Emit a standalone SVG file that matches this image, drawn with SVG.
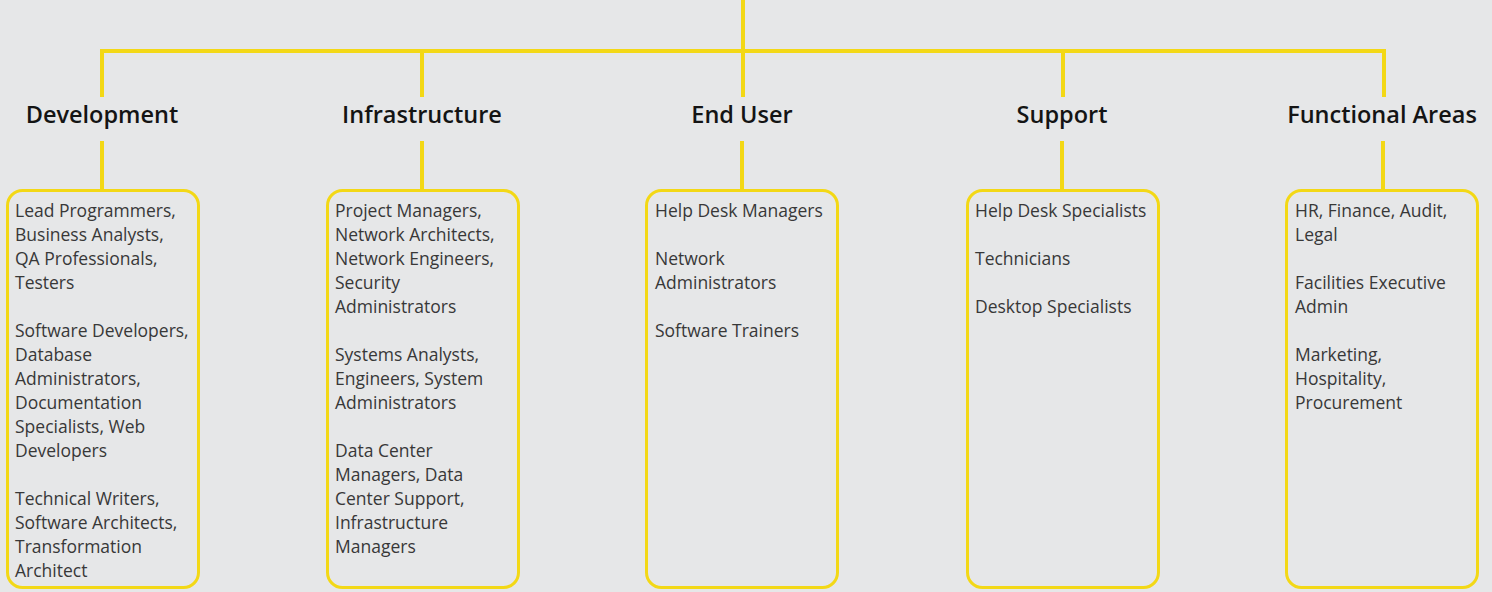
<svg xmlns="http://www.w3.org/2000/svg" width="1492" height="592" viewBox="0 0 1492 592">
<style>
.bg{fill:#e6e7e8}
.ln{stroke:#f3d816;stroke-width:4;fill:none}
.box{fill:#e6e7e8;stroke:#f3d816;stroke-width:3}
.title{font-family:"Open Sans",sans-serif;font-weight:600;font-size:23.5px;fill:#141414;text-anchor:middle}
.body{font-family:"Open Sans",sans-serif;font-size:17.5px;fill:#383838}
</style>
<rect class="bg" width="1492" height="592"/>
<g id="connectors">
<path class="ln" d="M743 0V97"/>
<path class="ln" d="M102 97V51H1384V97"/>
<path class="ln" d="M422 51V97M1063 51V97"/>
<path class="ln" d="M102 141V190M422 141V190M742 141V190M1062 141V190M1383 141V190"/>
</g>
<g id="development">
<text class="title" x="102" y="123">Development</text>
<rect class="box" x="7.5" y="190.5" width="191" height="397" rx="15"/>
<text class="body"><tspan x="15" y="217">Lead Programmers,</tspan><tspan x="15" y="241">Business Analysts,</tspan><tspan x="15" y="265">QA Professionals,</tspan><tspan x="15" y="289">Testers</tspan><tspan x="15" y="337">Software Developers,</tspan><tspan x="15" y="361">Database</tspan><tspan x="15" y="385">Administrators,</tspan><tspan x="15" y="409">Documentation</tspan><tspan x="15" y="433">Specialists, Web</tspan><tspan x="15" y="457">Developers</tspan><tspan x="15" y="505">Technical Writers,</tspan><tspan x="15" y="529">Software Architects,</tspan><tspan x="15" y="553">Transformation</tspan><tspan x="15" y="577">Architect</tspan></text>
</g>
<g id="infrastructure">
<text class="title" x="422" y="123">Infrastructure</text>
<rect class="box" x="327.5" y="190.5" width="191" height="397" rx="15"/>
<text class="body"><tspan x="335" y="217">Project Managers,</tspan><tspan x="335" y="241">Network Architects,</tspan><tspan x="335" y="265">Network Engineers,</tspan><tspan x="335" y="289">Security</tspan><tspan x="335" y="313">Administrators</tspan><tspan x="335" y="361">Systems Analysts,</tspan><tspan x="335" y="385">Engineers, System</tspan><tspan x="335" y="409">Administrators</tspan><tspan x="335" y="457">Data Center</tspan><tspan x="335" y="481">Managers, Data</tspan><tspan x="335" y="505">Center Support,</tspan><tspan x="335" y="529">Infrastructure</tspan><tspan x="335" y="553">Managers</tspan></text>
</g>
<g id="end-user">
<text class="title" x="742" y="123">End User</text>
<rect class="box" x="646.5" y="190.5" width="191" height="397" rx="15"/>
<text class="body"><tspan x="655" y="217">Help Desk Managers</tspan><tspan x="655" y="265">Network</tspan><tspan x="655" y="289">Administrators</tspan><tspan x="655" y="337">Software Trainers</tspan></text>
</g>
<g id="support">
<text class="title" x="1062" y="123">Support</text>
<rect class="box" x="967.5" y="190.5" width="191" height="397" rx="15"/>
<text class="body"><tspan x="975" y="217">Help Desk Specialists</tspan><tspan x="975" y="265">Technicians</tspan><tspan x="975" y="313">Desktop Specialists</tspan></text>
</g>
<g id="functional-areas">
<text class="title" x="1382" y="123">Functional Areas</text>
<rect class="box" x="1286.5" y="190.5" width="191" height="397" rx="15"/>
<text class="body"><tspan x="1295" y="217">HR, Finance, Audit,</tspan><tspan x="1295" y="241">Legal</tspan><tspan x="1295" y="289">Facilities Executive</tspan><tspan x="1295" y="313">Admin</tspan><tspan x="1295" y="361">Marketing,</tspan><tspan x="1295" y="385">Hospitality,</tspan><tspan x="1295" y="409">Procurement</tspan></text>
</g>
</svg>
